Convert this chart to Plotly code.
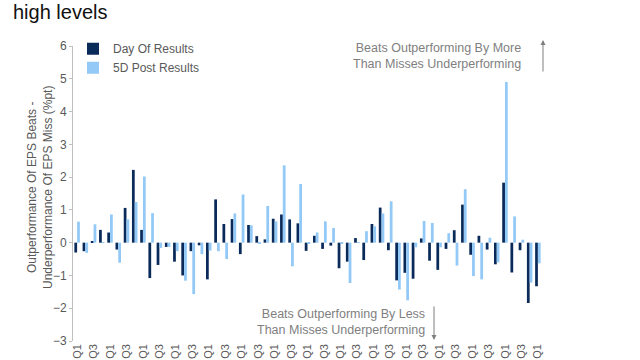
import plotly.graph_objects as go

# Categories: quarters Q1 2008 .. Q1 2022
quarters = [f"{y} Q{q}" for y in range(2008, 2023) for q in (1, 2, 3, 4)][:57]

day_of_results = [
    -0.30, -0.26, 0.03, 0.39, 0.31, -0.21, 1.06, 2.22, 0.39, -1.08,
    -0.68, -0.13, -0.58, -1.00, -0.26, -0.08, -1.12, 1.32, 0.57, 0.72,
    -0.35, 0.54, 0.20, 0.10, 0.73, 0.86, 0.71, 0.59, -0.25, 0.21,
    -0.19, -0.09, -0.78, -0.58, 0.14, -0.53, 0.57, 1.07, -0.23, -1.15,
    -0.92, -1.10, 0.13, -0.55, -0.83, -0.19, 0.38, 1.16, -0.37, 0.21,
    -0.21, -0.66, 1.83, -0.91, -0.23, -1.84, -1.33,
]
post_5d_results = [
    0.64, -0.31, 0.56, 0.02, 0.86, -0.61, 0.71, 1.24, 2.02, 0.90,
    -0.16, -0.13, -0.26, -1.16, -1.57, -0.35, -0.24, -0.26, -0.50, 0.89,
    1.47, 0.53, -0.03, 1.12, 0.65, 2.36, -0.72, 1.79, -0.03, 0.31,
    0.65, 0.45, -0.02, -1.23, 0.02, 0.35, 0.50, 0.89, 1.26, -1.43,
    -1.76, -0.14, 0.66, 0.60, -0.14, 0.29, -0.70, 1.63, -1.02, -1.12,
    0.15, -0.60, 4.90, 0.80, 0.09, -1.22, -0.63,
]

label_step = 2
tick_labels = quarters[::label_step]

DARK = "#0a2b5a"
LIGHT = "#92c9f6"
GREY = "#595959"
AXIS_GREY = "#bfbfbf"
FONT = "Liberation Sans, Arial, sans-serif"

fig = go.Figure()
fig.add_trace(go.Bar(x=quarters, y=day_of_results, name="Day Of Results",
                     marker=dict(color=DARK, line=dict(width=0))))
fig.add_trace(go.Bar(x=quarters, y=post_5d_results, name="5D Post Results",
                     marker=dict(color=LIGHT, line=dict(width=0))))

fig.update_layout(
    width=640, height=360,
    margin=dict(l=73, r=98, t=46, b=19),
    paper_bgcolor="white", plot_bgcolor="white",
    barmode="group", bargap=0.33, bargroupgap=0,
    font=dict(family=FONT, color=GREY, size=11),
    showlegend=True,
    legend=dict(x=0.0, y=1.04, xanchor="left", yanchor="top",
                bgcolor="rgba(0,0,0,0)", font=dict(size=12, color=GREY),
                tracegroupgap=0),
    title=dict(text="high levels", x=13/640, xanchor="left", xref="container",
               y=1 - 12/360, yanchor="middle", yref="container",
               font=dict(family=FONT, size=20, color="#111111")),
    xaxis=dict(type="category", categoryorder="array", categoryarray=quarters,
               range=[-0.5, len(quarters) - 0.5],
               tickvals=tick_labels, ticktext=tick_labels,
               tickangle=-90, ticks="", showline=False, showgrid=False,
               zeroline=False, automargin=False,
               tickfont=dict(size=11, color=GREY)),
    xaxis2=dict(overlaying="x", anchor="free", position=1/3,
                range=[-0.5, len(quarters) - 0.5], tick0=-0.5, dtick=1,
                ticks="outside", ticklen=3, tickcolor=AXIS_GREY,
                showline=True, linecolor=AXIS_GREY, linewidth=1,
                showticklabels=False, showgrid=False, zeroline=False),
    yaxis=dict(range=[-3, 6], dtick=1, showgrid=False, zeroline=False,
               showline=True, linecolor=AXIS_GREY, linewidth=1,
               ticks="outside", ticklen=3, tickcolor=AXIS_GREY,
               tickfont=dict(size=12, color=GREY), automargin=False),
)

# y-axis title
fig.add_annotation(xref="paper", yref="paper", x=(40-73)/469, y=(341-188)/295,
                   xanchor="center", yanchor="middle", textangle=-90, showarrow=False,
                   text="Outperformance Of EPS Beats -<br>Underperformance Of EPS Miss (%pt)",
                   font=dict(family=FONT, size=12, color=GREY))

ann_font = dict(family=FONT, size=12.5, color="#7f7f7f")
fig.add_annotation(xref="paper", yref="paper", x=(523-73)/469, y=(341-56)/295,
                   xanchor="right", yanchor="middle", align="right", showarrow=False,
                   text="Beats Outperforming By More<br>Than Misses Underperforming",
                   font=ann_font)
fig.add_annotation(xref="paper", yref="paper", x=(427-73)/469, y=(341-321.5)/295,
                   xanchor="right", yanchor="middle", align="right", showarrow=False,
                   text="Beats Outperforming By Less<br>Than Misses Underperforming",
                   font=ann_font)
# arrows
fig.add_annotation(xref="paper", yref="paper", x=(543-73)/469, y=(341-40)/295,
                   ax=0, ay=33, text="", showarrow=True, arrowhead=2, arrowsize=1,
                   arrowwidth=1, arrowcolor="#7f7f7f")
fig.add_annotation(xref="paper", yref="paper", x=(434-73)/469, y=(341-340)/295,
                   ax=0, ay=-35, text="", showarrow=True, arrowhead=2, arrowsize=1,
                   arrowwidth=1, arrowcolor="#7f7f7f")

fig.write_html("out.html", config={"displayModeBar": False},
               post_script="document.body.style.margin='0';")
